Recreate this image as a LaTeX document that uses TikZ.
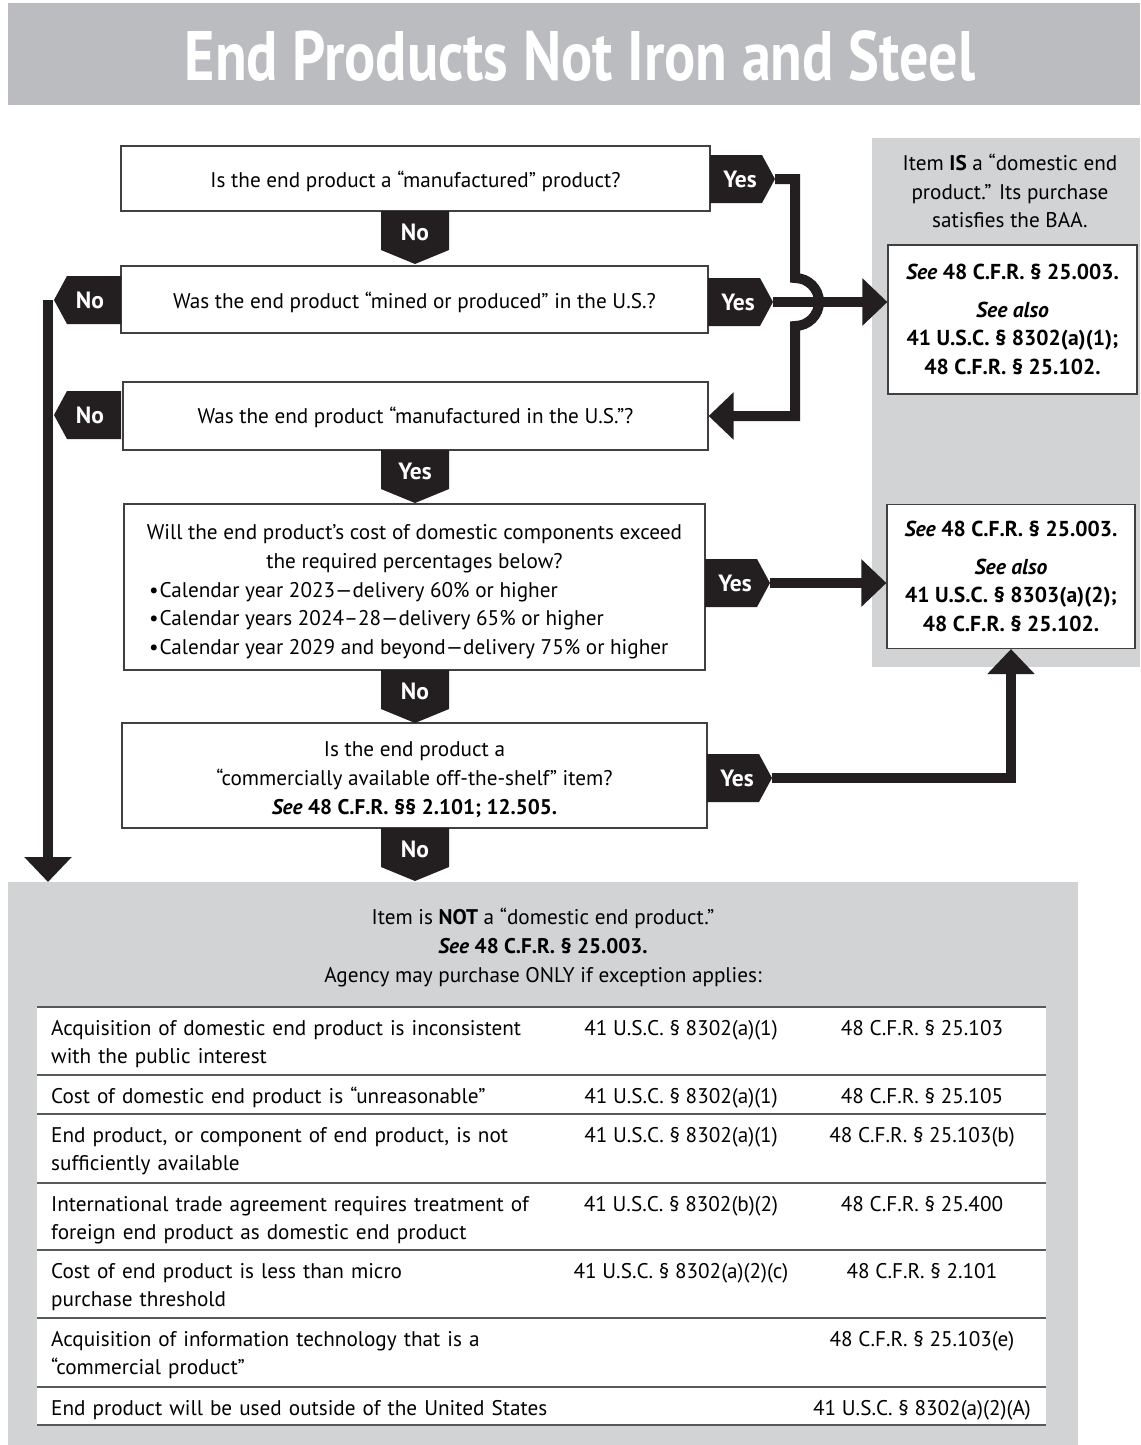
\documentclass[tikz,border=0pt]{standalone}
\usepackage{fontspec}
\setmainfont{PT Sans}
\newfontfamily\titlefont[FakeStretch=0.83]{PT Sans}
\usetikzlibrary{arrows.meta}
\definecolor{ink}{HTML}{231F20}
\definecolor{titlegray}{HTML}{BBBCBF}
\definecolor{panelgray}{HTML}{D1D3D4}
\definecolor{rulegray}{HTML}{58595B}
\newcommand{\qf}{\fontsize{21.2}{28.8}\selectfont}
\newcommand{\seeit}{\textbf{\textit{See}}}
\newcommand{\bul}{•\hspace{1pt}}
% tag with point to the right: name, left x, centre y
\newcommand{\yestag}[3]{%
  \fill[ink] (#2,#3-24) -- (#2+52,#3-24) -- (#2+65,#3) -- (#2+52,#3+24) -- (#2,#3+24) -- cycle;
  \node[tagtxt] (#1) at (#2+30,#3) {Yes};
  \coordinate (#1tip) at (#2+65,#3);}
% tag with point to the left: name, tip x, centre y
\newcommand{\notagL}[3]{%
  \fill[ink] (#2,#3) -- (#2+13,#3-24) -- (#2+67,#3-24) -- (#2+67,#3+24) -- (#2+13,#3+24) -- cycle;
  \node[tagtxt] (#1) at (#2+36,#3) {No};}
% tag pointing down: name, centre x, top y, text
\newcommand{\downtag}[4]{%
  \fill[ink] (#2-34,#3) -- (#2+34,#3) -- (#2+34,#3+39) -- (#2,#3+53) -- (#2-34,#3+39) -- cycle;
  \node[tagtxt] (#1) at (#2,#3+21) {#4};}
\begin{document}
\begin{tikzpicture}[x=1pt,y=-1pt,
  qbox/.style={draw=black!75, line width=1.2pt, fill=white, inner sep=0pt},
  rbox/.style={draw=black!75, line width=1.2pt, fill=white, inner sep=0pt, align=center, font=\bfseries\fontsize{21.6}{28.5}\selectfont},
  tagtxt/.style={text=white, font=\bfseries\fontsize{23.5}{26}\selectfont, inner sep=0pt},
  conn/.style={draw=ink, line width=10pt},
  arr/.style={-{Triangle[length=25pt,width=46pt]}},
  txt/.style={font=\qf, inner sep=0pt},
  rowline/.style={draw=rulegray, line width=1.2pt}]
\useasboundingbox (0,0) rectangle (1140,1445);
\fill[white] (0,0) rectangle (1140,1445);

% title bar
\node[fill=titlegray, minimum width=1132pt, minimum height=102pt, anchor=north west, inner sep=0pt] (titlebar) at (8,3) {};
\node[anchor=base, text=white, font=\titlefont\bfseries\fontsize{70}{70}\selectfont, inner sep=0pt] (title) at (580,81) {End Products Not Iron and Steel};

% panels
\node[fill=panelgray, minimum width=268pt, minimum height=529pt, anchor=north west, inner sep=0pt] (ispanel) at (872,138) {};
\node[fill=panelgray, minimum width=1070pt, minimum height=563pt, anchor=north west, inner sep=0pt] (notbox) at (8,882) {};

% question boxes
\node[qbox, minimum width=589pt, minimum height=65pt] (q1) at (415.5,178.5) {};
\node[qbox, minimum width=587pt, minimum height=67pt] (q2) at (414.5,299.5) {};
\node[qbox, minimum width=585pt, minimum height=68pt] (q3) at (415.5,416) {};
\node[qbox, minimum width=581pt, minimum height=166pt] (q4) at (414.5,587) {};
\node[qbox, minimum width=585pt, minimum height=105pt] (q5) at (414.5,775.5) {};

\node[txt] (q1t) at ([yshift=-3pt]q1.center) {Is the end product a “manufactured” product?};
\node[txt] (q2t) at ([yshift=-3pt]q2.center) {Was the end product “mined or produced” in the U.S.?};
\node[txt] (q3t) at ([yshift=-1.5pt]q3.center) {Was the end product “manufactured in the U.S.”?};
\node[txt, align=center] (q4t) at ([yshift=-7pt]q4.center) {Will the end product’s cost of domestic components exceed\\the required percentages below?\\
\begin{tabular}[t]{@{}p{531pt}@{}}
\bul Calendar year 2023—delivery 60\% or higher\\
\bul Calendar years 2024–28—delivery 65\% or higher\\
\bul Calendar year 2029 and beyond—delivery 75\% or higher
\end{tabular}};
\node[txt, align=center] (q5t) at ([yshift=-4pt]q5.center) {Is the end product a\\“commercially available off-the-shelf” item?\\\seeit\ \textbf{48 C.F.R. §§ 2.101; 12.505.}};

% right side
\node[txt, align=center] (istext) at (1010,191) {Item \textbf{IS} a “domestic end\\product.” Its purchase\\satisfies the BAA.};
\node[rbox, minimum width=249pt, minimum height=149pt] (r1) at (1012.5,319.5) {\textit{See} 48 C.F.R. § 25.003.\\[9pt]\textit{See also}\\41 U.S.C. § 8302(a)(1);\\48 C.F.R. § 25.102.};
\node[rbox, minimum width=248pt, minimum height=144pt] (r2) at (1011,576.5) {\textit{See} 48 C.F.R. § 25.003.\\[9pt]\textit{See also}\\41 U.S.C. § 8303(a)(2);\\48 C.F.R. § 25.102.};

% bottom text
\node[txt, align=center] (nottext) at (543,947.5) {Item is \textbf{NOT} a “domestic end product.”\\\seeit\ \textbf{48 C.F.R. § 25.003.}\\Agency may purchase ONLY if exception applies:};

% table
\node[fill=white, minimum width=1009pt, minimum height=418pt, anchor=north west, inner sep=0pt] (tbl) at (37,1007) {};
\foreach \yy in {1007,1075,1114,1183,1250,1318,1387,1425}
  \draw[rowline] (tbl.west |- 0,\yy) -- (tbl.east |- 0,\yy);

\node[txt, anchor=base west, text width=520pt, align=left] (a1) at (51,1035) {Acquisition of domestic end product is inconsistent\\with the public interest};
\node[txt, anchor=base] (b1) at (681,1035) {41 U.S.C. § 8302(a)(1)};
\node[txt, anchor=base] (c1) at (922,1035) {48 C.F.R. § 25.103};

\node[txt, anchor=base west, text width=520pt, align=left] (a2) at (51,1103) {Cost of domestic end product is “unreasonable”};
\node[txt, anchor=base] (b2) at (681,1103) {41 U.S.C. § 8302(a)(1)};
\node[txt, anchor=base] (c2) at (922,1103) {48 C.F.R. § 25.105};

\node[txt, anchor=base west, text width=520pt, align=left] (a3) at (51,1142) {End product, or component of end product, is not\\sufficiently available};
\node[txt, anchor=base] (b3) at (681,1142) {41 U.S.C. § 8302(a)(1)};
\node[txt, anchor=base] (c3) at (922,1142) {48 C.F.R. § 25.103(b)};

\node[txt, anchor=base west, text width=520pt, align=left] (a4) at (51,1211) {International trade agreement requires treatment of\\foreign end product as domestic end product};
\node[txt, anchor=base] (b4) at (681,1211) {41 U.S.C. § 8302(b)(2)};
\node[txt, anchor=base] (c4) at (922,1211) {48 C.F.R. § 25.400};

\node[txt, anchor=base west, text width=520pt, align=left] (a5) at (51,1278) {Cost of end product is less than micro\\purchase threshold};
\node[txt, anchor=base] (b5) at (681,1278) {41 U.S.C. § 8302(a)(2)(c)};
\node[txt, anchor=base] (c5) at (922,1278) {48 C.F.R. § 2.101};

\node[txt, anchor=base west, text width=520pt, align=left] (a6) at (51,1346) {Acquisition of information technology that is a\\“commercial product”};
\node[txt, anchor=base] (c6) at (922,1346) {48 C.F.R. § 25.103(e)};

\node[txt, anchor=base west, text width=520pt, align=left] (a7) at (51,1415) {End product will be used outside of the United States};
\node[txt, anchor=base] (c7) at (922,1415) {41 U.S.C. § 8302(a)(2)(A)};

% tag tip coordinates (needed before connectors)
\coordinate (Y1tip) at (775,179);
\coordinate (Y2tip) at (773,302);
\coordinate (Y4tip) at (770,583);
\coordinate (Y5tip) at (772,778);
\coordinate (hopA) at (795,278);
\coordinate (vtop) at (48,300);

% connectors
\draw[conn,arr] (Y1tip) -| (hopA) arc[start angle=-90, end angle=90, radius=24] -- (hopA |- q3.east) -- (q3.east);
\draw[conn,arr] (Y2tip) -- (Y2tip -| r1.west);
\draw[conn,arr] (Y4tip) -- (Y4tip -| r2.west);
\draw[conn,arr] (Y5tip) -| (r2.south);
\draw[conn,arr] (vtop) -- (vtop |- notbox.north);

% tags
\yestag{Y1}{710}{179}
\yestag{Y2}{708}{302}
\yestag{Y4}{705}{583}
\yestag{Y5}{707}{778}
\notagL{N2}{54}{300}
\notagL{N3}{54}{415}
\downtag{D1}{415}{211}{No}
\downtag{D3}{415}{450}{Yes}
\downtag{D4}{415}{670}{No}
\downtag{D5}{415}{828}{No}
\end{tikzpicture}
\end{document}
